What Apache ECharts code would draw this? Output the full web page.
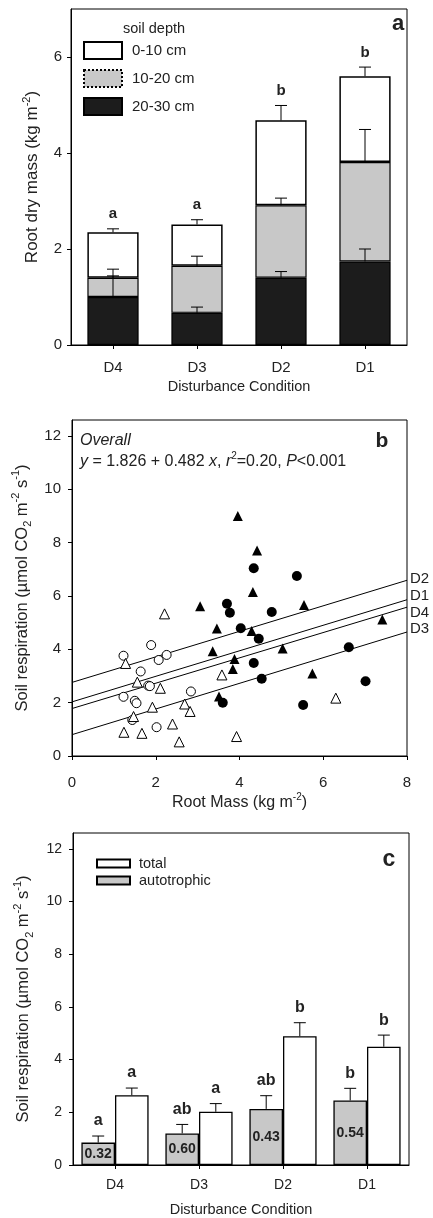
<!DOCTYPE html>
<html><head><meta charset="utf-8">
<script src="https://cdn.jsdelivr.net/npm/echarts@6/dist/echarts.min.js"></script>
<style>html,body{margin:0;padding:0;background:#fff}#c{width:433px;height:1218px}</style>
</head><body><div id="c"></div>
<script>
const FONT = '"Liberation Sans", Arial, Helvetica, sans-serif';
const INK = '#222';

// ---------- Panel a: root dry mass by soil depth ----------
const conditions = ['D4', 'D3', 'D2', 'D1'];
const depth20_30 = [1.00, 0.67, 1.40, 1.74];
const depth10_20 = [0.40, 0.98, 1.51, 2.07];
const depth0_10  = [0.95, 0.86, 1.77, 1.79];
const se20_30 = [0.44, 0.12, 0.13, 0.26];
const se10_20 = [0.18, 0.20, 0.15, 0.68];
const se0_10  = [0.07, 0.10, 0.31, 0.19];
const lettersA = ['a', 'a', 'b', 'b'];
const yTicksA = [0, 2, 4, 6];

// ---------- Panel b: soil respiration vs root mass ----------
const d4X = [1.23, 1.89, 2.07, 2.26, 1.64, 1.82, 1.86, 1.23, 1.50, 1.54, 1.44, 2.84, 2.02];
const d4Y = [3.76, 4.16, 3.60, 3.79, 3.17, 2.64, 2.62, 2.22, 2.07, 1.98, 1.35, 2.42, 1.08];
const d3X = [1.28, 2.21, 1.56, 2.11, 1.47, 1.92, 2.69, 2.82, 2.40, 1.24, 1.67, 2.56, 3.58, 3.93, 6.30];
const d3Y = [3.47, 5.33, 2.77, 2.54, 1.48, 1.83, 1.95, 1.67, 1.20, 0.89, 0.85, 0.53, 3.04, 0.73, 2.17];
const d2X = [3.06, 3.46, 3.36, 3.88, 3.84, 3.51, 4.29, 5.03, 5.54, 5.74, 7.41, 3.96, 4.42, 4.32];
const d2Y = [5.62, 4.78, 3.93, 3.64, 3.26, 2.23, 4.69, 4.03, 5.66, 3.09, 5.12, 9.00, 7.71, 6.15];
const d1X = [4.34, 5.37, 3.70, 3.77, 4.77, 4.03, 4.46, 4.34, 4.53, 3.60, 5.52, 6.61, 7.01];
const d1Y = [7.04, 6.75, 5.71, 5.37, 5.40, 4.79, 4.40, 3.49, 2.90, 2.00, 1.91, 4.08, 2.80];
const fitX  = [0, 8];
const fitD2 = [2.76, 6.59];
const fitD1 = [2.03, 5.86];
const fitD4 = [1.78, 5.58];
const fitD3 = [0.80, 4.65];
const xTicksB = [0, 2, 4, 6, 8];
const yTicksB = [0, 2, 4, 6, 8, 10, 12];

// ---------- Panel c: total vs autotrophic respiration ----------
const autotrophic = [0.85, 1.20, 2.13, 2.45];
const autoSE      = [0.25, 0.34, 0.50, 0.46];
const total       = [2.65, 2.02, 4.89, 4.49];
const totalSE     = [0.27, 0.31, 0.51, 0.44];
const autoFraction = ['0.32', '0.60', '0.43', '0.54'];
const lettersAuto  = ['a', 'ab', 'ab', 'b'];
const lettersTotal = ['a', 'a', 'b', 'b'];
const yTicksC = [0, 2, 4, 6, 8, 10, 12];

// ---------- helpers ----------
function richSet(size) {
  return {
    n: { fontSize: size, fontFamily: FONT, color: INK, lineHeight: size + 6 },
    s: { fontSize: Math.round(size * 0.65), fontFamily: FONT, color: INK, lineHeight: Math.round(size * 0.65), verticalAlign: 'top' },
    b: { fontSize: Math.round(size * 0.65), fontFamily: FONT, color: INK, lineHeight: Math.round(size * 0.65), verticalAlign: 'bottom' }
  };
}
const soilName = '{n|Soil respiration (\u00b5mol CO}{b|2}{n| m}{s|-2}{n| s}{s|-1}{n|)}';

function errRender(letters, sideFrac, fontSize) {
  return function (params, api) {
    const i = api.value(0), lo = api.value(1), hi = api.value(2), side = api.value(3) || 0;
    const band = api.size([1, 0])[0];
    const p1 = api.coord([i, lo]), p2 = api.coord([i, hi]);
    const x = p1[0] + side * band * sideFrac;
    const st = { stroke: '#000', lineWidth: 1 };
    const children = [
      { type: 'line', shape: { x1: x, y1: p1[1], x2: x, y2: p2[1] }, style: st },
      { type: 'line', shape: { x1: x - 6, y1: p2[1], x2: x + 6, y2: p2[1] }, style: st }
    ];
    if (letters) {
      children.push({ type: 'text', x: x, y: p2[1] - 7,
        style: { text: letters[params.dataIndex], fontFamily: FONT, fontWeight: 'bold',
                 fontSize: fontSize, fill: INK, align: 'center', verticalAlign: 'bottom' } });
    }
    return { type: 'group', children: children };
  };
}

const topBlack = depth20_30.slice();
const topGrey  = depth20_30.map((v, i) => v + depth10_20[i]);
const topWhite = topGrey.map((v, i) => v + depth0_10[i]);

function errData(tops, se, side) { return tops.map((t, i) => [i, t, t + se[i], side]); }

const axisLineStyle = { show: true, lineStyle: { color: '#000', width: 1 } };
const tickStyle = { show: true, length: 4, inside: false, lineStyle: { color: '#000' } };

const chart = echarts.init(document.getElementById('c'), null, { renderer: 'canvas' });
chart.setOption({
  animation: false,
  backgroundColor: '#fff',
  textStyle: { fontFamily: FONT },
  grid: [
    { left: 71, top: 9, width: 336, height: 336, show: true, borderColor: '#000', borderWidth: 1 },
    { left: 72, top: 420, width: 335, height: 336, show: true, borderColor: '#000', borderWidth: 1 },
    { left: 73, top: 833, width: 336, height: 336, show: true, borderColor: '#000', borderWidth: 1 }
  ],
  legend: [
    { orient: 'vertical', left: 78, top: 36, itemWidth: 38, itemHeight: 17, itemGap: 9, icon: 'rect',
      textStyle: { fontSize: 15, color: INK, fontFamily: FONT, padding: [0, 0, 0, 5] },
      data: [{ name: '0-10 cm' }, { name: '10-20 cm', itemStyle: { borderType: 'dotted' } }, { name: '20-30 cm' }] },
    { orient: 'vertical', left: 91, top: 851, itemWidth: 33, itemHeight: 8, itemGap: 2, icon: 'rect',
      textStyle: { fontSize: 14.5, color: INK, fontFamily: FONT, padding: [0, 0, 0, 4] },
      data: ['total', 'autotrophic'] }
  ],
  xAxis: [
    { type: 'category', gridIndex: 0, data: conditions, axisLine: axisLineStyle,
      axisTick: Object.assign({ alignWithLabel: true }, tickStyle),
      axisLabel: { fontSize: 15, color: INK, margin: 15 },
      name: 'Disturbance Condition', nameLocation: 'middle', nameGap: 34,
      nameTextStyle: { fontSize: 14.5, color: INK } },
    { type: 'value', gridIndex: 1, min: 0, max: 8, interval: 2, axisLine: axisLineStyle,
      axisTick: Object.assign({ customValues: xTicksB }, tickStyle),
      axisLabel: { fontSize: 15, color: INK, margin: 19, customValues: xTicksB },
      splitLine: { show: false },
      name: '{n|Root Mass (kg m}{s|-2}{n|)}', nameLocation: 'middle', nameGap: 36,
      nameTextStyle: { rich: richSet(16) } },
    { type: 'category', gridIndex: 2, data: conditions, axisLine: axisLineStyle,
      axisTick: Object.assign({ alignWithLabel: true }, tickStyle),
      axisLabel: { fontSize: 14, color: INK, margin: 13 },
      name: 'Disturbance Condition', nameLocation: 'middle', nameGap: 37,
      nameTextStyle: { fontSize: 14.5, color: INK } }
  ],
  yAxis: [
    { type: 'value', gridIndex: 0, min: 0, max: 7, axisLine: axisLineStyle,
      axisTick: Object.assign({ customValues: yTicksA }, tickStyle),
      axisLabel: { fontSize: 15, color: INK, margin: 9, customValues: yTicksA },
      splitLine: { show: false },
      name: '{n|Root dry mass (kg m}{s|-2}{n|)}', nameLocation: 'middle', nameGap: 27,
      nameTextStyle: { rich: richSet(17) } },
    { type: 'value', gridIndex: 1, min: 0, max: 12.6, axisLine: axisLineStyle,
      axisTick: Object.assign({ customValues: yTicksB }, tickStyle),
      axisLabel: { fontSize: 15, color: INK, margin: 11, customValues: yTicksB },
      splitLine: { show: false },
      name: soilName, nameLocation: 'middle', nameGap: 31,
      nameTextStyle: { rich: richSet(16.5) } },
    { type: 'value', gridIndex: 2, min: 0, max: 12.6, axisLine: axisLineStyle,
      axisTick: Object.assign({ customValues: yTicksC }, tickStyle),
      axisLabel: { fontSize: 14, color: INK, margin: 11, customValues: yTicksC },
      splitLine: { show: false },
      name: soilName, nameLocation: 'middle', nameGap: 38,
      nameTextStyle: { rich: richSet(16.5) } }
  ],
  graphic: [
    { type: 'text', x: 123, y: 29, style: { text: 'soil depth', fontFamily: FONT, fontSize: 14.5, fill: INK, verticalAlign: 'middle' } },
    { type: 'text', x: 398, y: 24, style: { text: 'a', fontFamily: FONT, fontSize: 22, fontWeight: 'bold', fill: INK, align: 'center', verticalAlign: 'middle' } },
    { type: 'text', x: 80, y: 441, style: { text: 'Overall', fontFamily: FONT, fontSize: 16, fontStyle: 'italic', fill: INK, verticalAlign: 'middle' } },
    { type: 'text', x: 80, y: 462, style: {
        text: '{i|y}{n| = 1.826 + 0.482 }{i|x}{n|, }{i|r}{s|2}{n|=0.20, }{i|P}{n|<0.001}',
        verticalAlign: 'middle',
        rich: {
          n: { fontSize: 16, fontFamily: FONT, fill: INK, lineHeight: 22 },
          i: { fontSize: 16, fontFamily: FONT, fill: INK, fontStyle: 'italic', lineHeight: 22 },
          s: { fontSize: 10, fontFamily: FONT, fill: INK, lineHeight: 10, verticalAlign: 'top' }
        } } },
    { type: 'text', x: 382, y: 441, style: { text: 'b', fontFamily: FONT, fontSize: 21, fontWeight: 'bold', fill: INK, align: 'center', verticalAlign: 'middle' } },
    { type: 'text', x: 389, y: 860, style: { text: 'c', fontFamily: FONT, fontSize: 23, fontWeight: 'bold', fill: INK, align: 'center', verticalAlign: 'middle' } }
  ],
  series: [
    // panel a stacked bars
    { name: '20-30 cm', type: 'bar', stack: 'a', xAxisIndex: 0, yAxisIndex: 0, barCategoryGap: '39%',
      data: depth20_30, itemStyle: { color: '#1c1c1c', borderColor: '#000', borderWidth: 1.2 } },
    { name: '10-20 cm', type: 'bar', stack: 'a', xAxisIndex: 0, yAxisIndex: 0,
      data: depth10_20, itemStyle: { color: '#c8c8c8', borderColor: '#000', borderWidth: 1.2 } },
    { name: '0-10 cm', type: 'bar', stack: 'a', xAxisIndex: 0, yAxisIndex: 0,
      data: depth0_10, itemStyle: { color: '#ffffff', borderColor: '#000', borderWidth: 1.5 } },
    { type: 'custom', xAxisIndex: 0, yAxisIndex: 0, z: 5, silent: true,
      renderItem: errRender(null, 0, 15), encode: { x: 0, y: [1, 2] }, data: errData(topBlack, se20_30, 0) },
    { type: 'custom', xAxisIndex: 0, yAxisIndex: 0, z: 5, silent: true,
      renderItem: errRender(null, 0, 15), encode: { x: 0, y: [1, 2] }, data: errData(topGrey, se10_20, 0) },
    { type: 'custom', xAxisIndex: 0, yAxisIndex: 0, z: 5, silent: true,
      renderItem: errRender(lettersA, 0, 15), encode: { x: 0, y: [1, 2] }, data: errData(topWhite, se0_10, 0) },

    // panel b scatter
    { name: 'D4', type: 'scatter', xAxisIndex: 1, yAxisIndex: 1, symbol: 'circle', symbolSize: 9,
      itemStyle: { color: '#fff', borderColor: '#000', borderWidth: 1, opacity: 1 },
      data: d4X.map((x, i) => [x, d4Y[i]]) },
    { name: 'D3', type: 'scatter', xAxisIndex: 1, yAxisIndex: 1, symbol: 'triangle', symbolSize: 10,
      itemStyle: { color: '#fff', borderColor: '#000', borderWidth: 1, opacity: 1 },
      data: d3X.map((x, i) => [x, d3Y[i]]) },
    { name: 'D2', type: 'scatter', xAxisIndex: 1, yAxisIndex: 1, symbol: 'triangle', symbolSize: 10,
      itemStyle: { color: '#000', opacity: 1 },
      data: d2X.map((x, i) => [x, d2Y[i]]) },
    { name: 'D1', type: 'scatter', xAxisIndex: 1, yAxisIndex: 1, symbol: 'circle', symbolSize: 10,
      itemStyle: { color: '#000', opacity: 1 },
      data: d1X.map((x, i) => [x, d1Y[i]]) },
    ...[['D2', fitD2, -1], ['D1', fitD1, -4], ['D4', fitD4, 6], ['D3', fitD3, -3]].map(([nm, fit, dy]) => ({
      name: 'fit ' + nm, type: 'line', xAxisIndex: 1, yAxisIndex: 1, symbol: 'none', silent: true,
      lineStyle: { color: '#000', width: 1 }, z: 1,
      data: fitX.map((x, i) => [x, fit[i]]),
      endLabel: { show: true, formatter: nm, fontSize: 15, color: INK, fontFamily: FONT, distance: 3, offset: [0, dy] }
    })),

    // panel c bars
    { name: 'autotrophic', type: 'bar', xAxisIndex: 2, yAxisIndex: 2, barGap: '0%', barCategoryGap: '20%',
      data: autotrophic, itemStyle: { color: '#c8c8c8', borderColor: '#000', borderWidth: 1.3 },
      label: { show: true, position: 'inside', formatter: p => autoFraction[p.dataIndex],
               fontSize: 14, fontWeight: 'bold', color: INK, fontFamily: FONT } },
    { name: 'total', type: 'bar', xAxisIndex: 2, yAxisIndex: 2,
      data: total, itemStyle: { color: '#ffffff', borderColor: '#000', borderWidth: 1.3 } },
    { type: 'custom', xAxisIndex: 2, yAxisIndex: 2, z: 5, silent: true,
      renderItem: errRender(lettersAuto, 0.2, 16), encode: { x: 0, y: [1, 2] }, data: errData(autotrophic, autoSE, -1) },
    { type: 'custom', xAxisIndex: 2, yAxisIndex: 2, z: 5, silent: true,
      renderItem: errRender(lettersTotal, 0.2, 16), encode: { x: 0, y: [1, 2] }, data: errData(total, totalSE, 1) }
  ]
});
</script></body></html>
